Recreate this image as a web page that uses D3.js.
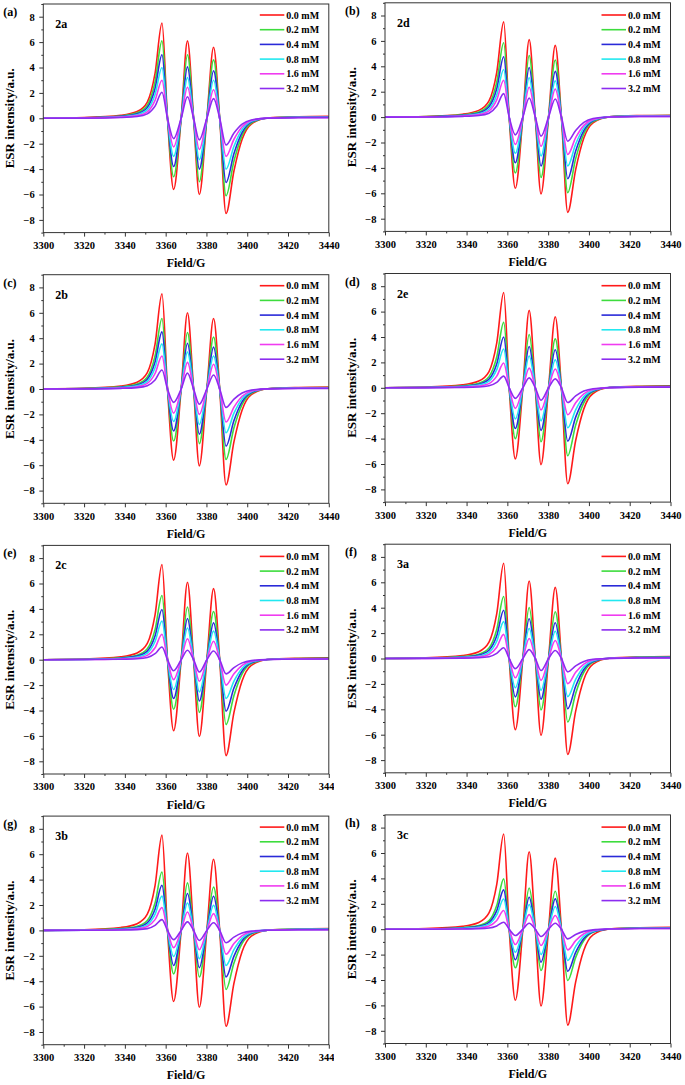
<!DOCTYPE html>
<html><head><meta charset="utf-8">
<script src="https://cdn.jsdelivr.net/npm/d3@7"></script>
<style>
body{margin:0;background:#fff}
svg text{font-family:"Liberation Serif","Times New Roman",serif;font-weight:bold;fill:#000}
</style>
</head><body><svg id="c" width="685" height="1085"></svg>
<script>
// Shared field positions (G) where intensities were read
const fieldG = [3300,3320,3338,3346,3351,3354.8,3358.2,3360.9,3363.9,3367.6,3370.7,3373.7,3376.5,3380.2,3383.5,3386.5,3389.6,3393.5,3397.5,3402,3410,3425,3440];
const concentrations = ["0.0 mM","0.2 mM","0.4 mM","0.8 mM","1.6 mM","3.2 mM"];
const seriesColors = ["#ff1a1a","#3ddc3d","#2a2ad8","#22e8f0","#f03cf0","#8c2cf0"];
const panelLetters = ["(a)","(b)","(c)","(d)","(e)","(f)","(g)","(h)"];
const sampleNames = ["2a","2d","2b","2e","2c","3a","3b","3c"];
const xTicks = [3300,3320,3340,3360,3380,3400,3420,3440];
const xMinorTicks = [3310,3330,3350,3370,3390,3410,3430];
const yTicks = [-8,-6,-4,-2,0,2,4,6,8];
const yMinorTicks = [-9,-7,-5,-3,-1,1,3,5,7,9];

const spectra_2a = [
[0,0.05,0.23,0.53,1.28,3.53,7.5,0,-5.6,0,6.1,0,-6.0,0,5.6,0,-7.5,-4.13,-1.65,-0.45,0.02,0.12,0.15],
[0,0.04,0.18,0.43,1.04,2.87,6.1,0,-4.6,0,5.0,0,-5.0,0,4.6,0,-6.1,-3.36,-1.34,-0.37,0.02,0.1,0.12],
[0,0.03,0.15,0.35,0.85,2.35,5.0,0,-3.8,0,4.05,0,-4.0,0,3.75,0,-5.05,-2.78,-1.11,-0.3,0.02,0.08,0.1],
[0,0.02,0.12,0.28,0.68,1.88,4.0,0,-3.0,0,3.2,0,-3.25,0,3.0,0,-4.0,-2.2,-0.88,-0.24,0.02,0.08,0.08],
[0,0.02,0.09,0.21,0.51,1.41,3.0,0,-2.25,0,2.45,0,-2.45,0,2.25,0,-3.0,-1.65,-0.66,-0.18,0.01,0.06,0.06],
[0,0.01,0.06,0.14,0.35,0.96,2.05,0,-1.6,0,1.7,0,-1.7,0,1.55,0,-2.1,-1.16,-0.46,-0.13,0.01,0.05,0.05]];
const spectra_2d = [
[0,0.05,0.23,0.53,1.28,3.53,7.5,0,-5.6,0,6.1,0,-6.05,0,5.65,0,-7.5,-4.13,-1.65,-0.45,0.02,0.12,0.15],
[0,0.04,0.18,0.41,0.99,2.75,5.85,0,-4.4,0,4.85,0,-4.75,0,4.5,0,-5.95,-3.27,-1.31,-0.36,0.02,0.1,0.12],
[0,0.03,0.14,0.33,0.81,2.23,4.75,0,-3.6,0,3.9,0,-3.85,0,3.6,0,-4.85,-2.67,-1.07,-0.29,0.02,0.08,0.1],
[0,0.02,0.11,0.26,0.64,1.76,3.75,0,-2.85,0,3.1,0,-3.05,0,2.85,0,-3.85,-2.12,-0.85,-0.23,0.02,0.08,0.08],
[0,0.02,0.09,0.2,0.49,1.36,2.9,0,-2.15,0,2.35,0,-2.3,0,2.2,0,-2.95,-1.62,-0.65,-0.18,0.01,0.06,0.06],
[0,0.01,0.06,0.13,0.31,0.87,1.85,0,-1.4,0,1.5,0,-1.5,0,1.42,0,-1.9,-1.05,-0.42,-0.11,0.01,0.05,0.05]];
const spectra_2b = [
[0,0.05,0.23,0.53,1.28,3.53,7.5,0,-5.6,0,6.0,0,-6.05,0,5.55,0,-7.55,-4.15,-1.66,-0.45,0.02,0.12,0.15],
[0,0.03,0.17,0.39,0.94,2.61,5.55,0,-4.1,0,4.45,0,-4.3,0,4.1,0,-5.55,-3.05,-1.22,-0.33,0.02,0.1,0.12],
[0,0.03,0.14,0.32,0.77,2.12,4.5,0,-3.3,0,3.6,0,-3.55,0,3.3,0,-4.5,-2.48,-0.99,-0.27,0.02,0.08,0.1],
[0,0.02,0.11,0.25,0.6,1.67,3.55,0,-2.55,0,2.9,0,-2.8,0,2.6,0,-3.45,-1.9,-0.76,-0.21,0.02,0.08,0.08],
[0,0.02,0.08,0.18,0.44,1.22,2.6,0,-1.9,0,2.1,0,-2.0,0,1.95,0,-2.6,-1.43,-0.57,-0.16,0.01,0.06,0.06],
[0,0.01,0.05,0.11,0.26,0.71,1.5,0,-1.05,0,1.25,0,-1.2,0,1.1,0,-1.45,-0.8,-0.32,-0.09,0.01,0.05,0.05]];
const spectra_2e = [
[0,0.05,0.23,0.53,1.28,3.53,7.5,0,-5.6,0,6.1,0,-6.05,0,5.6,0,-7.55,-4.15,-1.66,-0.45,0.02,0.12,0.15],
[0,0.03,0.15,0.36,0.88,2.42,5.15,0,-4.0,0,4.2,0,-4.25,0,3.85,0,-5.35,-2.94,-1.18,-0.32,0.02,0.1,0.12],
[0,0.02,0.12,0.28,0.68,1.88,4.0,0,-3.2,0,3.25,0,-3.35,0,3.0,0,-4.2,-2.31,-0.92,-0.25,0.02,0.08,0.1],
[0,0.02,0.09,0.21,0.52,1.43,3.05,0,-2.45,0,2.5,0,-2.6,0,2.2,0,-3.15,-1.73,-0.69,-0.19,0.02,0.08,0.08],
[0,0.01,0.06,0.14,0.33,0.92,1.95,0,-1.62,0,1.55,0,-1.75,0,1.48,0,-2.12,-1.17,-0.47,-0.13,0.01,0.06,0.06],
[0,0.01,0.03,0.06,0.16,0.43,0.92,0,-0.83,0,0.78,0,-0.98,0,0.7,0,-1.16,-0.64,-0.26,-0.07,0.01,0.05,0.05]];
const spectra_2c = [
[0,0.05,0.23,0.53,1.28,3.53,7.5,0,-5.6,0,6.1,0,-6.05,0,5.6,0,-7.55,-4.15,-1.66,-0.45,0.02,0.12,0.15],
[0,0.03,0.15,0.35,0.86,2.37,5.05,0,-3.9,0,4.15,0,-4.15,0,3.8,0,-5.1,-2.81,-1.12,-0.31,0.02,0.1,0.12],
[0,0.02,0.12,0.28,0.67,1.86,3.95,0,-3.05,0,3.25,0,-3.25,0,2.9,0,-4.05,-2.23,-0.89,-0.24,0.02,0.08,0.1],
[0,0.02,0.09,0.21,0.52,1.43,3.05,0,-2.35,0,2.5,0,-2.53,0,2.25,0,-3.05,-1.68,-0.67,-0.18,0.02,0.08,0.08],
[0,0.01,0.06,0.14,0.34,0.94,2.0,0,-1.57,0,1.65,0,-1.7,0,1.45,0,-2.0,-1.1,-0.44,-0.12,0.01,0.06,0.06],
[0,0.01,0.03,0.07,0.17,0.47,1.0,0,-0.87,0,0.75,0,-0.97,0,0.68,0,-1.12,-0.62,-0.25,-0.07,0.01,0.05,0.05]];
const spectra_3a = [
[0,0.05,0.23,0.53,1.28,3.53,7.5,0,-5.6,0,6.1,0,-6.05,0,5.6,0,-7.55,-4.15,-1.66,-0.45,0.02,0.12,0.15],
[0,0.03,0.15,0.34,0.83,2.29,4.88,0,-3.8,0,4.02,0,-4.05,0,3.68,0,-5.0,-2.75,-1.1,-0.3,0.02,0.1,0.12],
[0,0.02,0.11,0.27,0.65,1.79,3.8,0,-3.02,0,3.13,0,-3.2,0,2.82,0,-3.96,-2.18,-0.87,-0.24,0.02,0.08,0.1],
[0,0.02,0.09,0.2,0.49,1.36,2.9,0,-2.3,0,2.36,0,-2.5,0,2.15,0,-3.0,-1.65,-0.66,-0.18,0.02,0.08,0.08],
[0,0.01,0.06,0.13,0.32,0.89,1.9,0,-1.52,0,1.58,0,-1.72,0,1.42,0,-1.98,-1.09,-0.44,-0.12,0.01,0.06,0.06],
[0,0.01,0.03,0.06,0.14,0.4,0.85,0,-0.8,0,0.7,0,-0.95,0,0.63,0,-1.05,-0.58,-0.23,-0.06,0.01,0.05,0.05]];
const spectra_3b = [
[0,0.05,0.23,0.53,1.28,3.53,7.5,0,-5.6,0,6.1,0,-6.05,0,5.6,0,-7.55,-4.15,-1.66,-0.45,0.02,0.12,0.15],
[0,0.03,0.14,0.32,0.78,2.16,4.6,0,-3.42,0,3.74,0,-3.67,0,3.42,0,-4.65,-2.56,-1.02,-0.28,0.02,0.1,0.12],
[0,0.02,0.11,0.25,0.6,1.67,3.55,0,-2.76,0,2.9,0,-2.94,0,2.69,0,-3.67,-2.02,-0.81,-0.22,0.02,0.08,0.1],
[0,0.02,0.08,0.19,0.46,1.27,2.7,0,-2.05,0,2.16,0,-2.23,0,1.98,0,-2.76,-1.52,-0.61,-0.17,0.02,0.08,0.08],
[0,0.01,0.05,0.13,0.31,0.85,1.8,0,-1.36,0,1.45,0,-1.52,0,1.32,0,-1.88,-1.03,-0.41,-0.11,0.01,0.06,0.06],
[0,0.01,0.03,0.06,0.14,0.4,0.85,0,-0.73,0,0.67,0,-0.79,0,0.6,0,-0.97,-0.53,-0.21,-0.06,0.01,0.05,0.05]];
const spectra_3c = [
[0,0.05,0.23,0.53,1.28,3.53,7.5,0,-5.6,0,6.1,0,-6.05,0,5.6,0,-7.55,-4.15,-1.66,-0.45,0.02,0.12,0.15],
[0,0.02,0.12,0.28,0.67,1.86,3.96,0,-3.04,0,3.25,0,-3.25,0,2.99,0,-4.04,-2.22,-0.89,-0.24,0.02,0.1,0.12],
[0,0.02,0.09,0.22,0.53,1.46,3.1,0,-2.41,0,2.52,0,-2.6,0,2.39,0,-3.31,-1.82,-0.73,-0.2,0.02,0.08,0.1],
[0,0.01,0.07,0.17,0.4,1.12,2.38,0,-1.81,0,1.94,0,-1.99,0,1.79,0,-2.46,-1.35,-0.54,-0.15,0.02,0.08,0.08],
[0,0.01,0.04,0.1,0.25,0.69,1.47,0,-1.21,0,1.15,0,-1.28,0,1.08,0,-1.63,-0.9,-0.36,-0.1,0.01,0.06,0.06],
[0,0,0.02,0.04,0.09,0.26,0.55,0,-0.5,0,0.47,0,-0.57,0,0.47,0,-0.76,-0.42,-0.17,-0.05,0.01,0.05,0.05]];

const panelSpectra = [spectra_2a, spectra_2d, spectra_2b, spectra_2e, spectra_2c, spectra_3a, spectra_3b, spectra_3c];

const svg = d3.select("#c");
const colX0 = [43.3, 385], colW = 285.5;
const rowStep = 270.7;
const colYTop = [4, 2.8], plotH = 228.6;
const axisColor = "#333";

panelSpectra.forEach((spectra, i) => {
  const col = i % 2, row = Math.floor(i / 2);
  const x0 = colX0[col], x1 = x0 + colW;
  const yT = colYTop[col] + row * rowStep, yB = yT + plotH;
  const g = svg.append("g");
  if (col === 1 && row >= 2) {
    g.append("rect").attr("x", x0 - 51).attr("y", yT - 6).attr("width", 685 - (x0 - 51))
      .attr("height", rowStep).attr("fill", "#fff");
  }
  const x = d3.scaleLinear().domain([3300, 3440]).range([x0, x1]);
  const y = d3.scaleLinear().domain([-9, 9]).range([yB, yT]);

  const clipId = "clip" + i;
  g.append("clipPath").attr("id", clipId).append("rect")
    .attr("x", x0).attr("y", yT).attr("width", x1 - x0).attr("height", yB - yT);

  const line = d3.line()
    .x((d, k) => x(fieldG[k]))
    .y(d => y(d))
    .curve(d3.curveMonotoneX);

  const lg = g.append("g").attr("clip-path", `url(#${clipId})`);
  spectra.forEach((vals, s) => {
    lg.append("path").attr("d", line(vals)).attr("fill", "none")
      .attr("stroke", seriesColors[s]).attr("stroke-width", 1.6)
      .attr("stroke-linejoin", "round");
  });

  // axes
  const xAxis = d3.axisBottom(x).tickValues(xTicks).tickSize(4).tickPadding(5).tickFormat(d3.format("d"));
  const xMinor = d3.axisBottom(x).tickValues(xMinorTicks).tickSize(2).tickFormat("");
  const yAxis = d3.axisLeft(y).tickValues(yTicks).tickSize(4).tickPadding(4.5).tickFormat(d3.format("d"));
  const yMinor = d3.axisLeft(y).tickValues(yMinorTicks).tickSize(2).tickFormat("");
  [[xAxis, `translate(0,${yB})`], [xMinor, `translate(0,${yB})`], [yAxis, `translate(${x0},0)`], [yMinor, `translate(${x0},0)`]].forEach(([ax, tr]) => {
    const a = g.append("g").attr("transform", tr).call(ax);
    a.select(".domain").remove();
    a.selectAll("line").attr("stroke", axisColor);
    a.selectAll("text").attr("font-size", 10.5).attr("font-family", null).attr("fill", "#000");
  });
  g.append("rect").attr("x", x0).attr("y", yT).attr("width", x1 - x0).attr("height", yB - yT)
    .attr("fill", "none").attr("stroke", axisColor).attr("stroke-width", 1);

  // labels
  g.append("text").attr("x", (x0 + x1) / 2).attr("y", yB + 34.5).attr("text-anchor", "middle")
    .attr("font-size", 12).text("Field/G");
  g.append("text").attr("transform", `translate(${x0 - 29.5},${(yT + yB) / 2}) rotate(-90)`)
    .attr("text-anchor", "middle").attr("font-size", 13).text("ESR intensity/a.u.");
  g.append("text").attr("x", x0 - 40).attr("y", yT + 12).attr("font-size", 12).text(panelLetters[i]);
  g.append("text").attr("x", x0 + 12).attr("y", yT + 24).attr("font-size", 12).text(sampleNames[i]);

  // legend
  const ly0 = 15 + row * rowStep;
  concentrations.forEach((c, s) => {
    const ly = ly0 + s * 14.7;
    g.append("line").attr("x1", x1 - 69).attr("x2", x1 - 44.5).attr("y1", ly).attr("y2", ly)
      .attr("stroke", seriesColors[s]).attr("stroke-width", 1.6);
    g.append("text").attr("x", x1 - 42.5).attr("y", ly).attr("dy", "0.35em")
      .attr("font-size", 10).text(c);
  });
});
</script>
</body></html>
